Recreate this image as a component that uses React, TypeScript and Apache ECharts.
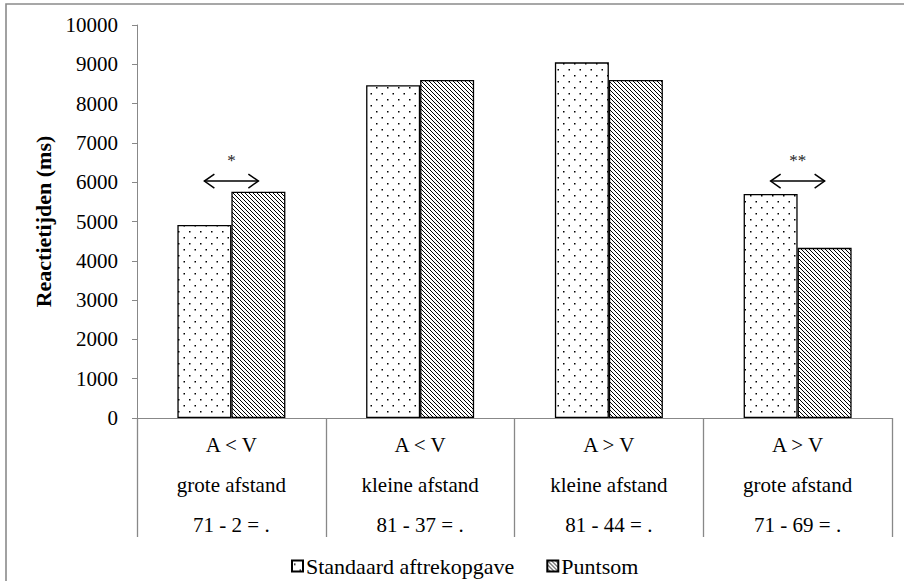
import React, { useEffect, useRef } from "react";
import * as echarts from "echarts";

const relations = ["A < V", "A < V", "A > V", "A > V"];
const distances = ["grote afstand", "kleine afstand", "kleine afstand", "grote afstand"];
const sums = ["71 - 2 = .", "81 - 37 = .", "81 - 44 = .", "71 - 69 = ."];
const seriesNames = ["Standaard aftrekopgave", "Puntsom"];
const standaardValues = [4910, 8470, 9050, 5700];
const puntsomValues = [5760, 8600, 8600, 4330];
const yTicks = { min: 0, max: 10000, interval: 1000 };
const annotCategories = [0, 3];
const annotLabels = ["*", "**"];
const arrowValue = 6030;
const starValue = 6560;

function makeDots(): string {
  const c = document.createElement("canvas");
  c.width = 11;
  c.height = 12;
  const ctx = c.getContext("2d")!;
  ctx.fillStyle = "#fff";
  ctx.fillRect(0, 0, 11, 12);
  ctx.fillStyle = "#000";
  ctx.fillRect(2, 3, 1.5, 1.5);
  ctx.fillRect(7.5, 9, 1.5, 1.5);
  return c.toDataURL();
}

function makeHatch(): string {
  const c = document.createElement("canvas");
  c.width = 4;
  c.height = 4;
  const ctx = c.getContext("2d")!;
  ctx.fillStyle = "#fff";
  ctx.fillRect(0, 0, 4, 4);
  ctx.fillStyle = "#000";
  for (let i = 0; i < 4; i++) ctx.fillRect(i, i, 1, 1);
  return c.toDataURL();
}

export default function App() {
  const ref = useRef<HTMLDivElement>(null);
  useEffect(() => {
    if (!ref.current) return;
    const chart = echarts.init(ref.current, null, { renderer: "svg" });
    const categories = relations.map((r, i) => `${r}\n${distances[i]}\n${sums[i]}`);
    const serif = "Liberation Serif";
    const dots = { image: makeDots(), repeat: "repeat" };
    const hatch = { image: makeHatch(), repeat: "repeat" };
    chart.setOption({
      animation: false,
      backgroundColor: "#fff",
      grid: { left: 137, right: 12, top: 25, bottom: 163, containLabel: false },
      legend: {
        data: seriesNames,
        left: 286,
        top: 550,
        icon: "rect",
        itemWidth: 11,
        itemHeight: 11,
        itemGap: 32,
        textStyle: { fontFamily: serif, fontSize: 22, color: "#000", padding: [0, 0, 0, -2] },
      },
      xAxis: {
        type: "category",
        data: categories,
        axisLine: { lineStyle: { color: "#888", width: 1 } },
        axisTick: { show: true, interval: 0, length: 119, lineStyle: { color: "#888", width: 1.3 } },
        axisLabel: {
          interval: 0,
          margin: 7,
          fontFamily: serif,
          fontSize: 21,
          lineHeight: 40,
          color: "#000",
        },
      },
      yAxis: {
        type: "value",
        min: yTicks.min,
        max: yTicks.max,
        interval: yTicks.interval,
        name: "Reactietijden (ms)",
        nameLocation: "middle",
        nameRotate: 90,
        nameGap: 83,
        nameTextStyle: { fontFamily: serif, fontSize: 22, fontWeight: "bold", color: "#000" },
        axisLine: { show: true, lineStyle: { color: "#888", width: 1 } },
        axisTick: { show: true, length: 5, lineStyle: { color: "#888" } },
        splitLine: { show: false },
        axisLabel: { fontFamily: serif, fontSize: 21, color: "#000", margin: 19, formatter: (v: number) => String(v) },
      },
      series: [
        {
          name: seriesNames[0],
          type: "bar",
          data: standaardValues,
          barWidth: 54,
          barGap: "0%",
          itemStyle: { color: dots, borderColor: "#000", borderWidth: 1.3 },
        },
        {
          name: seriesNames[1],
          type: "bar",
          data: puntsomValues,
          barWidth: 54,
          barGap: "0%",
          itemStyle: { color: hatch, borderColor: "#000", borderWidth: 1.3 },
        },
      ],
    });

    const elements: any[] = [
      {
        type: "rect",
        shape: { x: 6, y: 4, width: 920, height: 600 },
        style: { fill: "none", stroke: "#8a8a8a", lineWidth: 1.6 },
        silent: true,
      },
    ];
    annotCategories.forEach((ci, k) => {
      const [cx, ay] = chart.convertToPixel({ xAxisIndex: 0, yAxisIndex: 0 }, [ci, arrowValue]) as number[];
      const sy = chart.convertToPixel({ yAxisIndex: 0 }, starValue) as number;
      const x1 = cx - 27;
      const x2 = cx + 27;
      elements.push(
        { type: "line", shape: { x1, y1: ay, x2, y2: ay }, style: { stroke: "#000", lineWidth: 1.5 } },
        { type: "polyline", shape: { points: [[x1 + 10, ay - 7], [x1, ay], [x1 + 10, ay + 7]] }, style: { stroke: "#000", lineWidth: 1.5, fill: "none" } },
        { type: "polyline", shape: { points: [[x2 - 10, ay - 7], [x2, ay], [x2 - 10, ay + 7]] }, style: { stroke: "#000", lineWidth: 1.5, fill: "none" } },
        {
          type: "text",
          x: cx,
          y: sy,
          style: { text: annotLabels[k], fontFamily: serif, fontSize: 17, fill: "#222", align: "center", verticalAlign: "middle" },
        }
      );
    });
    chart.setOption({ graphic: { elements } });

    return () => chart.dispose();
  }, []);
  return <div ref={ref} style={{ position: "absolute", left: 0, top: 0, width: 904, height: 581 }} />;
}
